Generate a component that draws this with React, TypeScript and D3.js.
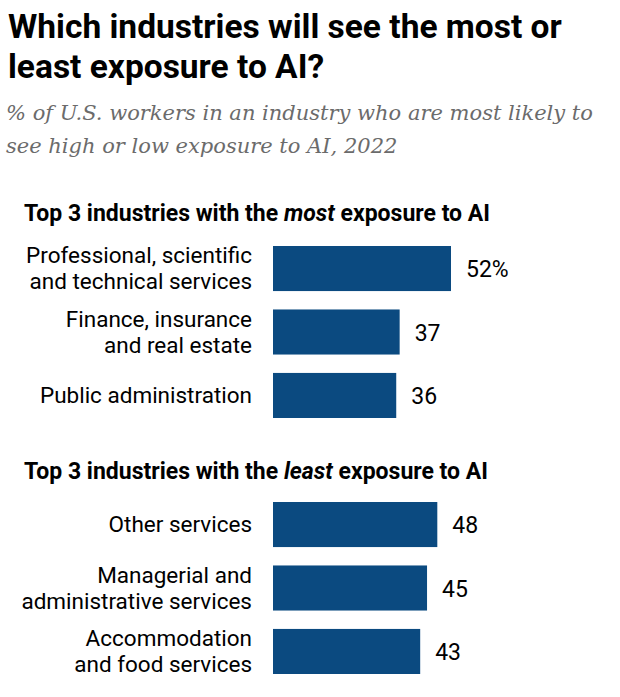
import React from "react";
import * as d3 from "d3";

const mostLabels = [
  ["Professional, scientific", "and technical services"],
  ["Finance, insurance", "and real estate"],
  ["Public administration"],
];
const mostValues = [52, 37, 36];
const leastLabels = [
  ["Other services"],
  ["Managerial and", "administrative services"],
  ["Accommodation", "and food services"],
];
const leastValues = [48, 45, 43];

const W = 620;
const H = 697;
const barColor = "#0b4a80";
const font = "Roboto, 'Liberation Sans', sans-serif";

function Group({ labels, values, top, first }: { labels: string[][]; values: number[]; top: number; first: boolean }) {
  const x = d3.scaleLinear().domain([0, 52]).range([273, 451]);
  const y = d3.scaleBand<number>().domain(d3.range(values.length)).range([top, top + 172]).paddingInner(0.29).paddingOuter(0);
  return (
    <g>
      {values.map((v, i) => {
        const yc = (y(i) as number) + y.bandwidth() / 2;
        const lines = labels[i];
        const lh = 26;
        return (
          <g key={i}>
            <rect x={x(0)} y={y(i)} width={x(v) - x(0)} height={y.bandwidth()} fill={barColor} />
            {lines.map((l, j) => (
              <text key={j} x={252} y={yc + 7.5 + (j - (lines.length - 1) / 2) * lh} textAnchor="end" fontSize={22.5} fontFamily={font} fill="#000">
                {l}
              </text>
            ))}
            <text x={x(v) + 15} y={yc + 8.5} fontSize={23} fontFamily={font} fill="#000">
              {first && i === 0 ? `${v}%` : `${v}`}
            </text>
          </g>
        );
      })}
    </g>
  );
}

export default function App() {
  return (
    <svg width={W} height={H} style={{ position: "absolute", left: 0, top: 0, background: "#fff" }}>
      <text x={8} y={38} fontSize={33.5} fontWeight="bold" fontFamily={font} fill="#000">Which industries will see the most or</text>
      <text x={8} y={78} fontSize={33.5} fontWeight="bold" fontFamily={font} fill="#000">least exposure to AI?</text>
      <text x={6} y={120} fontSize={21} fontStyle="italic" fontFamily="'DejaVu Serif', 'Liberation Serif', serif" fill="#6b6b6b">% of U.S. workers in an industry who are most likely to</text>
      <text x={6} y={153} fontSize={21} fontStyle="italic" fontFamily="'DejaVu Serif', 'Liberation Serif', serif" fill="#6b6b6b">see high or low exposure to AI, 2022</text>
      <text x={24} y={221} fontSize={23} fontWeight="bold" fontFamily={font} fill="#000">
        Top 3 industries with the <tspan fontStyle="italic">most</tspan> exposure to AI
      </text>
      <Group labels={mostLabels} values={mostValues} top={246} first={true} />
      <text x={24} y={479} fontSize={23} fontWeight="bold" fontFamily={font} fill="#000">
        Top 3 industries with the <tspan fontStyle="italic">least</tspan> exposure to AI
      </text>
      <Group labels={leastLabels} values={leastValues} top={502} first={false} />
    </svg>
  );
}
